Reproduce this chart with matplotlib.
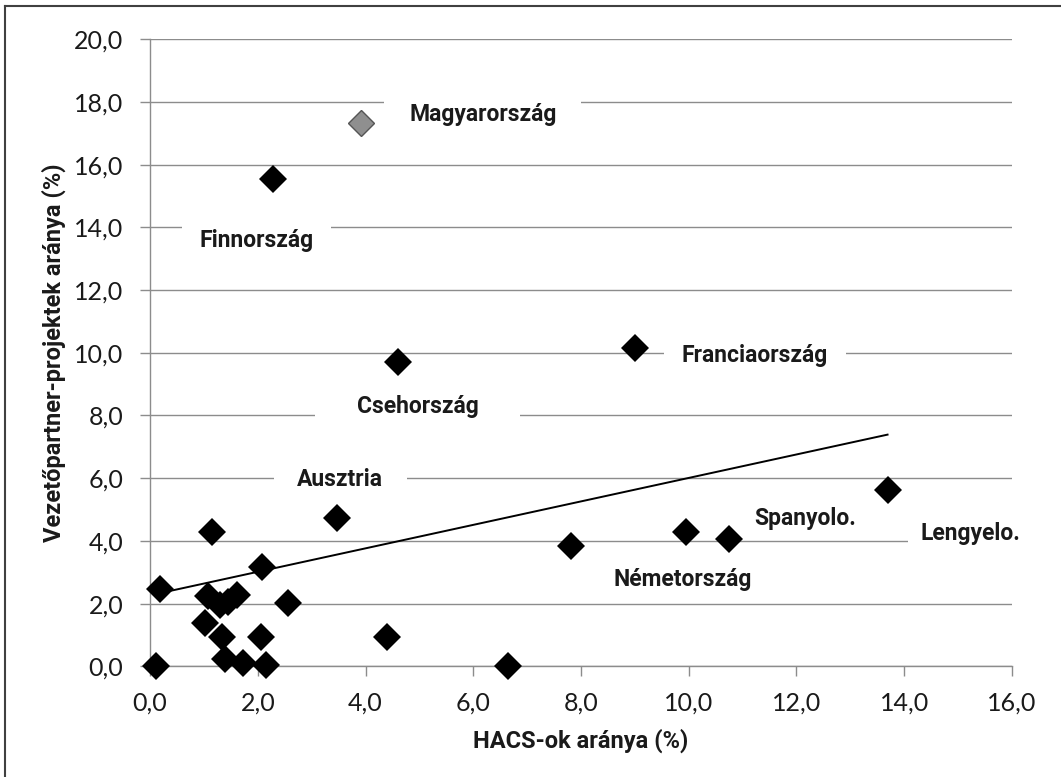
import numpy as np
import matplotlib
matplotlib.use("Agg")
import matplotlib.pyplot as plt
from matplotlib.path import Path
from matplotlib.lines import Line2D

plt.rcParams['font.family'] = ['Lato', 'DejaVu Sans']
bold_font = ['Roboto', 'DejaVu Sans']

# adatok (leolvasva az abrarol)
hu_x = [3.92]
hu_y = [17.34]
pts_x = [2.28, 4.60, 9.00, 3.48, 13.69, 10.75, 9.94, 7.81,
         0.19, 1.16, 2.07, 2.57, 0.12, 1.08, 1.62, 1.30, 1.45,
         1.02, 1.33, 2.06, 1.39, 1.73, 2.15, 4.40, 6.65]
pts_y = [15.55, 9.70, 10.14, 4.73, 5.62, 4.06, 4.28, 3.85,
         2.47, 4.27, 3.18, 2.03, 0.02, 2.25, 2.28, 1.95, 2.05,
         1.37, 0.94, 0.92, 0.22, 0.12, 0.04, 0.94, 0.02]
trend_x = [0.12, 13.69]
trend_y = [2.31, 7.39]

names = ["Magyarország", "Finnország", "Csehország", "Ausztria",
         "Franciaország", "Spanyolo.", "Lengyelo.", "Németország"]
name_x = [6.18, 1.98, 4.97, 3.53, 11.23, 12.16, 15.22, 9.89]
name_y = [17.59, 13.58, 8.28, 5.97, 9.90, 4.70, 4.25, 2.78]
# feher doboz vizszintes margoi (px): bal, jobb
name_pad = [(25, 24), (18, 17), (42, 41), (23, 24), (18, 18), (8, 8), (12, 40), (32, 15)]

xticks = np.arange(0, 17, 2)
yticks = np.arange(0, 21, 2)


def hbox(pl, pr, pv=4):
    def style(x0, y0, w, h, mutation_size):
        x1, y1 = x0 + w, y0 + h
        verts = [(x0 - pl, y0 - pv), (x1 + pr, y0 - pv), (x1 + pr, y1 + pv),
                 (x0 - pl, y1 + pv), (x0 - pl, y0 - pv)]
        return Path(verts, closed=True)
    return style


fig = plt.figure(figsize=(10.61, 7.77), dpi=100)
ax = fig.add_axes([150 / 1061, 1 - 666.3 / 777, 862 / 1061, 627 / 777])

grid_c = '#8c8c8c'
ax.set_xlim(0, 16)
ax.set_ylim(0, 20)
ax.set_xticks(xticks)
ax.set_yticks(yticks)
ax.set_xticklabels([f"{v:.1f}".replace('.', ',') for v in xticks])
ax.set_yticklabels([f"{v:.1f}".replace('.', ',') for v in yticks])
ax.yaxis.grid(True, color=grid_c, lw=1.0)
ax.set_axisbelow(True)
for s in ['top', 'right']:
    ax.spines[s].set_visible(False)
for s in ['left', 'bottom']:
    ax.spines[s].set_color(grid_c)
    ax.spines[s].set_linewidth(1.0)
ax.tick_params(axis='both', direction='out', length=7.2, width=1.0, color=grid_c,
               labelsize=18, labelcolor='#1a1a1a')
ax.tick_params(axis='y', pad=12)
ax.tick_params(axis='x', pad=11)

ax.plot(trend_x, trend_y, color='black', lw=1.4, zorder=3)
ax.plot(pts_x, pts_y, linestyle='none', marker='D', ms=14, color='black',
        mec='black', mew=0, zorder=4, clip_on=False)
ax.plot(hu_x, hu_y, linestyle='none', marker='D', ms=13, mfc='#8f8f8f',
        mec='#555555', mew=1.0, zorder=4)

for n, x, y, (pl, pr) in zip(names, name_x, name_y, name_pad):
    ax.text(x, y, n, ha='center', va='center', fontsize=16.5, fontweight='bold',
            family=bold_font, color='#1a1a1a', zorder=2.5, clip_on=False,
            bbox=dict(boxstyle=hbox(pl, pr), fc='white', ec='none'))

ax.set_xlabel("HACS-ok aránya (%)", fontsize=17, fontweight='bold',
              family=bold_font, color='#1a1a1a', labelpad=10)
ax.set_ylabel("Vezetőpartner-projektek aránya (%)", fontsize=17,
              fontweight='bold', family=bold_font, color='#1a1a1a')
ax.yaxis.set_label_coords(-0.098, 0.5)

# keret
fig.add_artist(Line2D([5 / 1061, 1], [1 - 6 / 777, 1 - 6 / 777],
                      transform=fig.transFigure, color='#404040', lw=1.5))
fig.add_artist(Line2D([5 / 1061, 5 / 1061], [0, 1 - 6 / 777],
                      transform=fig.transFigure, color='#404040', lw=1.5))

fig.savefig("out.png", dpi=100)
